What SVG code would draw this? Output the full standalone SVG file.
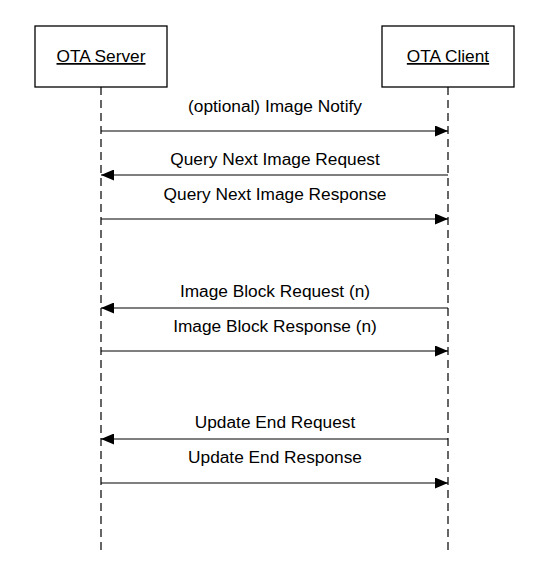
<svg xmlns="http://www.w3.org/2000/svg" width="558" height="570" viewBox="0 0 558 570">
<style>
.box{fill:#fff;stroke:#000;stroke-width:1.3}
.life{stroke:#000;stroke-width:1.2;stroke-dasharray:8 5;fill:none}
.msg{stroke:#000;stroke-width:1.2;fill:none}
text{font-family:"Liberation Sans",Arial,sans-serif;font-size:17.3px;fill:#000;text-anchor:middle}
.hd{text-decoration:underline}
</style>
<defs>
<marker id="ah" viewBox="0 0 13 11" refX="13" refY="5.5" markerWidth="13" markerHeight="11" markerUnits="userSpaceOnUse" orient="auto">
<path d="M0,0 L13,5.5 L0,11 Z" fill="#000"/>
</marker>
</defs>
<rect width="558" height="570" fill="#fff"/>
<g id="server">
<rect class="box" x="35" y="26" width="132" height="61"/>
<text class="hd" x="101" y="62">OTA Server</text>
<line class="life" x1="101" y1="87" x2="101" y2="553"/>
</g>
<g id="client">
<rect class="box" x="382" y="26" width="132" height="61"/>
<text class="hd" x="448" y="62">OTA Client</text>
<line class="life" x1="448" y1="87" x2="448" y2="553"/>
</g>
<g id="connectors">
<line class="msg" x1="101" y1="131" x2="448" y2="131" marker-end="url(#ah)"/>
<line class="msg" x1="448" y1="175" x2="101" y2="175" marker-end="url(#ah)"/>
<line class="msg" x1="101" y1="219" x2="448" y2="219" marker-end="url(#ah)"/>
<line class="msg" x1="448" y1="308" x2="101" y2="308" marker-end="url(#ah)"/>
<line class="msg" x1="101" y1="351" x2="448" y2="351" marker-end="url(#ah)"/>
<line class="msg" x1="448" y1="439" x2="101" y2="439" marker-end="url(#ah)"/>
<line class="msg" x1="101" y1="483" x2="448" y2="483" marker-end="url(#ah)"/>
<text x="275" y="112">(optional) Image Notify</text>
<text x="275" y="165">Query Next Image Request</text>
<text x="275" y="200">Query Next Image Response</text>
<text x="275" y="297">Image Block Request (n)</text>
<text x="275" y="332">Image Block Response (n)</text>
<text x="275" y="428">Update End Request</text>
<text x="275" y="463">Update End Response</text>
</g>
</svg>
